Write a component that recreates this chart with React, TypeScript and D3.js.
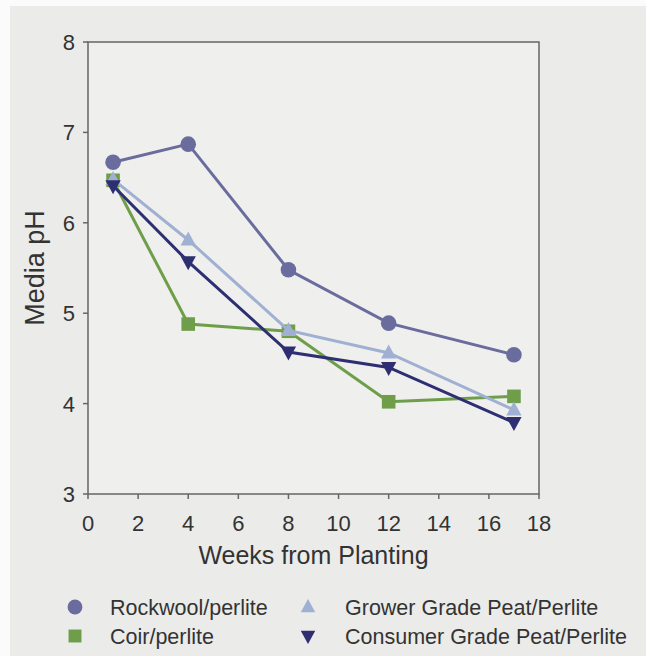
import React from "react";
import * as d3 from "d3";

const weeks = [1, 4, 8, 12, 17];
const rockwool = [6.67, 6.87, 5.48, 4.89, 4.54];
const coir = [6.47, 4.88, 4.8, 4.02, 4.08];
const grower = [6.48, 5.81, 4.81, 4.56, 3.93];
const consumer = [6.41, 5.57, 4.57, 4.4, 3.79];
const xTicks = [0, 2, 4, 6, 8, 10, 12, 14, 16, 18];
const yTicks = [3, 4, 5, 6, 7, 8];

const seriesList = [
  { name: "Rockwool/perlite", values: rockwool, color: "#6a6c9e", shape: "circle" },
  { name: "Coir/perlite", values: coir, color: "#6f9e4b", shape: "square" },
  { name: "Grower Grade Peat/Perlite", values: grower, color: "#9fb0d2", shape: "tri-up" },
  { name: "Consumer Grade Peat/Perlite", values: consumer, color: "#2e2f72", shape: "tri-down" },
];

const W = 646;
const H = 656;
const left = 88, right = 539, top = 42, bottom = 494;

function Marker({ shape, x, y, color, s = 1 }: { shape: string; x: number; y: number; color: string; s?: number }) {
  if (shape === "circle") return <circle cx={x} cy={y} r={7.8 * s} fill={color} />;
  if (shape === "square") return <rect x={x - 6.8 * s} y={y - 6.8 * s} width={13.6 * s} height={13.6 * s} fill={color} />;
  if (shape === "tri-up") {
    const r = 8.5 * s;
    return <path d={`M${x},${y - r}L${x + r * 0.9},${y + r * 0.65}L${x - r * 0.9},${y + r * 0.65}Z`} fill={color} />;
  }
  const r = 8.5 * s;
  return <path d={`M${x},${y + r}L${x + r * 0.9},${y - r * 0.65}L${x - r * 0.9},${y - r * 0.65}Z`} fill={color} />;
}

export default function App() {
  const x = d3.scaleLinear().domain([0, 18]).range([left, right]);
  const y = d3.scaleLinear().domain([3, 8]).range([bottom, top]);
  const line = d3.line<[number, number]>().x((d) => x(d[0])).y((d) => y(d[1]));
  const font = "'Liberation Sans', Arial, sans-serif";
  const axisColor = "#666666";
  const textColor = "#333333";

  const legend = [
    { i: 0, mx: 75, my: 607, tx: 110 },
    { i: 2, mx: 308, my: 607, tx: 345 },
    { i: 1, mx: 75, my: 636, tx: 110 },
    { i: 3, mx: 308, my: 636, tx: 345 },
  ];

  return (
    <svg width={W} height={H} style={{ position: "absolute", left: 0, top: 0 }} fontFamily={font}>
      <rect x={0} y={0} width={W} height={H} fill="#fbfbfb" />
      <rect x={10} y={6} width={W - 10} height={H - 6} fill="#ebebe9" />
      <rect x={left} y={top} width={right - left} height={bottom - top} fill="#efefee" stroke={axisColor} strokeWidth={1.5} />
      {yTicks.map((t) => (
        <g key={"y" + t}>
          <line x1={left - 5} x2={left} y1={y(t)} y2={y(t)} stroke={axisColor} strokeWidth={1.5} />
          <text x={left - 13} y={y(t)} dy="0.36em" textAnchor="end" fontSize={22} fill={textColor}>{t}</text>
        </g>
      ))}
      {xTicks.map((t) => (
        <g key={"x" + t}>
          <line x1={x(t)} x2={x(t)} y1={bottom} y2={bottom + 5} stroke={axisColor} strokeWidth={1.5} />
          <text x={x(t)} y={bottom + 37} textAnchor="middle" fontSize={22} fill={textColor}>{t}</text>
        </g>
      ))}
      <text transform={`translate(44,${(top + bottom) / 2}) rotate(-90)`} textAnchor="middle" fontSize={27} fill={textColor}>Media pH</text>
      <text x={(left + right) / 2} y={564} textAnchor="middle" fontSize={25} fill={textColor}>Weeks from Planting</text>
      {seriesList.map((s) => {
        const pts = weeks.map((w, i) => [w, s.values[i]] as [number, number]);
        return (
          <g key={s.name}>
            <path d={line(pts) || ""} fill="none" stroke={s.color} strokeWidth={3} />
            {pts.map((p, i) => (
              <Marker key={i} shape={s.shape} x={x(p[0])} y={y(p[1])} color={s.color} />
            ))}
          </g>
        );
      })}
      {legend.map((l) => {
        const s = seriesList[l.i];
        return (
          <g key={"l" + l.i}>
            <Marker shape={s.shape} x={l.mx} y={l.my} color={s.color} s={0.95} />
            <text x={l.tx} y={l.my} dy="0.36em" fontSize={21.5} fill={textColor}>{s.name}</text>
          </g>
        );
      })}
    </svg>
  );
}
